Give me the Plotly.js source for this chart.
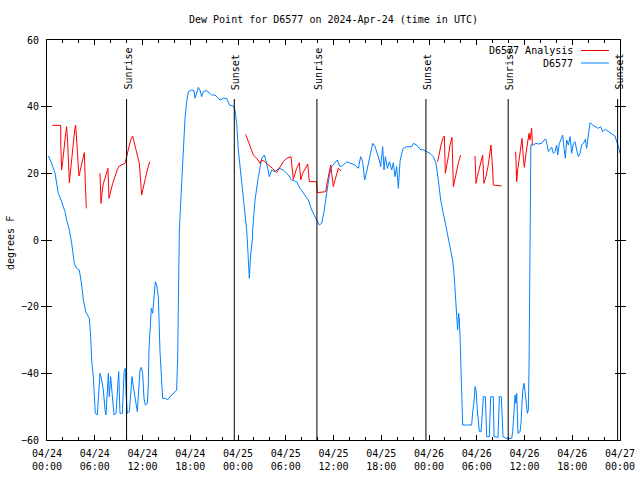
<!DOCTYPE html>
<html><head><meta charset="utf-8">
<script src="https://cdn.plot.ly/plotly-3.0.1.min.js"></script>
<style>html,body{margin:0;padding:0;background:#fff}#chart{width:640px;height:480px}</style>
</head><body><div id="chart"></div>
<script>
// Hours since 2024-04-24 00:00 UTC and dew point (deg F)
const blueHours = [
0.17,0.59,1.01,1.42,1.84,2.26,2.47,2.81,3.10,3.43,
3.73,4.06,4.36,4.57,4.86,5.32,5.49,5.61,5.82,5.95,
6.07,6.32,6.45,6.66,6.87,7.08,7.29,7.41,7.71,7.83,
8.00,8.25,8.42,8.67,8.84,9.01,9.17,9.47,9.68,9.84,
9.93,10.09,10.35,10.51,10.68,10.85,11.02,11.18,11.35,11.52,
11.69,11.85,12.02,12.19,12.36,12.61,12.73,12.82,12.94,13.11,
13.28,13.45,13.61,13.78,13.99,14.20,14.41,14.53,14.95,15.12,
15.66,16.29,16.42,16.54,16.63,16.92,17.13,17.34,17.55,17.76,
18.18,18.47,18.60,18.81,19.02,19.22,19.43,19.64,20.06,20.48,
20.69,21.11,21.53,21.74,22.16,22.58,22.91,23.41,23.62,23.83,
24.04,24.46,24.75,25.09,25.17,25.30,25.42,25.59,25.80,25.84,
26.14,26.56,26.98,27.31,27.60,27.94,28.23,28.65,29.19,29.70,
30.33,30.74,31.37,31.79,32.21,32.84,33.26,33.68,33.97,34.22,
34.51,34.81,35.14,35.48,35.77,36.07,36.48,36.82,37.24,37.65,
38.16,38.70,39.12,39.41,39.66,39.92,40.17,40.38,40.59,40.92,
41.22,41.43,41.76,41.93,42.18,42.35,42.52,42.77,43.02,43.31,
43.52,43.73,43.94,44.15,44.36,44.57,44.77,45.19,45.82,46.03,
46.45,46.87,47.29,47.71,48.13,48.54,48.88,49.17,49.47,49.80,
50.14,50.22,50.55,50.76,50.97,51.14,51.27,51.39,51.48,51.60,
51.73,51.81,51.90,51.98,52.11,52.23,52.73,53.36,53.49,53.66,
53.78,53.91,54.07,54.24,54.33,54.54,54.62,54.83,55.08,55.17,
55.25,55.58,55.75,56.08,56.17,56.67,56.75,56.84,57.09,57.21,
57.30,57.68,58.39,58.52,58.64,58.81,58.94,59.02,59.10,59.18,
59.44,59.56,59.69,59.77,59.94,60.06,60.19,60.36,60.48,60.57,
60.69,60.74,60.80,61.11,61.44,61.74,62.16,62.45,62.70,63.00,
63.21,63.42,63.63,63.84,64.04,64.17,64.38,64.55,64.80,64.97,
65.13,65.30,65.51,65.72,65.93,66.14,66.35,66.56,66.77,66.98,
67.19,67.40,67.65,67.81,68.02,68.23,68.57,68.86,69.28,69.57,
69.82,70.15,70.53,70.95,71.37,71.66,71.87,71.98
];
const blueValues = [
25.2,23,20,14,11.5,8.5,6,3,-1,-7,
-8.5,-9,-13.5,-18,-21.5,-23.5,-29,-36,-41,-45.5,
-52,-52.5,-47,-40,-42,-45,-51,-52.5,-40,-47,
-41,-49.5,-52.5,-52,-46,-39.5,-52,-52,-39.5,-38.5,
-46,-52,-51.5,-46,-41,-44,-47,-50,-51.5,-45,
-39,-38.2,-40,-47.5,-49.5,-49,-43.5,-32.5,-26,-20.5,
-22,-15.5,-12.5,-13.5,-17,-33.5,-43,-47.5,-47.5,-48,
-46.5,-45,-35,-16.5,3,17,28,36.5,41.5,44.5,
45,44.8,42.5,44.5,45.8,45,43,44.5,44.8,44,
43.5,43.5,42.5,42,42.5,42.5,40.5,40.2,39,35,
27,18,10,3,0,-6.5,-11.5,-4.5,0,3,
12,19,24.5,25.5,23,19,21,20.5,21.5,21,
19.5,18,17.5,15.5,14,12,9,7,6,4.5,
5,8.5,14,19.5,22,23,24,22,22.5,23.5,
23,22.5,21.5,25,23.5,18,20.5,23,25,29,
28,26.5,24,22,28,21,25,21.5,23.5,21,
23.2,19,22,15.5,23.5,26,27.5,28,28,29,
28.5,27.2,27,26.5,26,25,23,18,12,8,
4,3,0,-3,-6,-10,-15,-20,-25,-27,
-22,-24,-29,-37.5,-49.5,-55.5,-55.5,-55.5,-51.5,-48.5,
-44,-45,-51,-55,-57.5,-57.5,-54.5,-47,-47,-53,
-59,-59,-47,-47,-59,-59.2,-53,-47,-47,-53.5,
-59,-59.5,-59.5,-57.5,-53,-46.5,-49,-46,-51.5,-58,
-57.5,-55,-49,-45.5,-43,-45,-48,-52,-51,-38,
-12,14,28.5,28.5,29,28.8,29,30,30.2,26.5,
27,27.8,26,26.5,28.5,25.5,29,30,31.5,27.5,
24.5,30,28.5,31,26,29,29.5,27,25,26,
28.5,29,30.2,27.5,31,35.2,34.5,34,33.5,34,
32.5,33.2,32.5,32,31.2,29,27.5,26
];
const redHours = [
0.67,1.72,1.74,1.84,1.97,2.14,2.35,2.47,2.60,2.81,
2.97,3.14,3.31,3.48,3.60,3.73,3.90,4.02,4.23,4.40,
4.57,4.69,4.82,4.94,5.80,6.66,6.79,6.91,7.08,7.29,
7.50,7.66,7.79,8.00,8.25,8.54,8.84,9.09,9.38,9.80,
10.01,10.26,10.51,10.76,11.06,11.35,11.60,11.90,12.10,12.36,
12.61,12.90,18.00,24.96,25.30,25.59,25.93,26.35,26.76,26.97,
27.39,27.81,28.34,28.85,29.27,29.69,30.11,30.66,30.95,31.16,
31.37,31.71,31.88,32.13,32.42,32.76,32.96,33.88,33.97,35.02,
35.23,35.44,35.65,35.77,35.98,36.19,36.40,36.61,36.94,42.00,
49.09,49.30,49.55,49.80,49.93,50.05,50.22,50.43,50.64,50.89,
51.06,51.23,51.48,51.73,51.98,52.90,53.78,53.91,54.07,54.33,
54.58,54.74,54.91,55.16,55.41,55.66,55.79,56.00,56.08,57.13,
58.00,58.89,59.02,59.14,59.35,59.52,59.69,59.86,59.98,60.19,
60.36,60.57,60.69,60.90,60.99
];
const redValues = [
34.4,34.4,28,21,23.5,28,32,34,29,17.2,
21,26,31,33,34.5,28,23.5,19.2,21.5,23,
24.5,26.2,17,9.5,null,20,11,14,17,18.5,
20.5,21.5,12.5,15,17,19,21.2,22.2,22.6,23,
25,28,30,31.2,28.5,25.5,23,13.5,16,18.5,
21,23.5,null,31.7,29.5,27.5,25.5,24.5,23,24,
23.5,22.5,21.5,20.2,22,23.5,24.5,25,18.2,20,
21.5,23.2,18,20,21.5,22.8,17.5,17.5,14.2,14.5,
17.5,20,22.5,20,16,18,19.5,21.5,20.7,null,
23.5,26,29,30.8,31.2,20,22,25,28.5,30.8,
16,18,21,23.5,25.5,null,25.2,17,19,21.5,
24,25.5,17,19,22,26,28.5,21,16.5,16.2,
null,26.5,17.5,21,25,28.5,30.5,24.5,21.8,26,
29,32,30,33.5,28.5
];
const sunTimes = ['2024-04-24 10:00','2024-04-24 23:32','2024-04-25 09:55','2024-04-25 23:37','2024-04-26 09:57','2024-04-26 23:42'];
const sunLabels = ['Sunrise','Sunset','Sunrise','Sunset','Sunrise','Sunset'];
const seriesNames = ['D6577 Analysis','D6577'];
const seriesColors = ['#ff0000','#0080ff'];

const start = Date.UTC(2024,3,24);
function toDate(h){ const d = new Date(start + Math.round(h*3600000)); return d.toISOString().slice(0,19).replace('T',' '); }

const FONT = 'DejaVu Sans Mono, Liberation Mono, monospace';
const xRange = ['2024-04-24 00:00','2024-04-27 00:00'];
const traces = [
  {x: redHours.map(toDate), y: redValues, type:'scatter', mode:'lines', name: seriesNames[0], xaxis:'x2', connectgaps:false, line:{color:seriesColors[0], width:1}},
  {x: blueHours.map(toDate), y: blueValues, type:'scatter', mode:'lines', name: seriesNames[1], xaxis:'x', connectgaps:false, line:{color:seriesColors[1], width:1}}
];

const plotL = 47, plotR = 620, plotT = 40, plotB = 440;
const pw = plotR - plotL, ph = plotB - plotT;
const px = v => (v - plotL)/pw;
const py = v => (plotB - v)/ph;

const shapes = [], annotations = [];
sunTimes.forEach((t,i) => {
  shapes.push({type:'line', xref:'x', yref:'paper', x0:t, x1:t, y0:0, y1:py(99), line:{color:'#000', width:1}});
  annotations.push({x:t, xref:'x', y:py(92), yref:'paper', yanchor:'bottom', xanchor:'center', xshift:1, text:sunLabels[i], textangle:-90, showarrow:false, font:{family:FONT, size:10, color:'#000'}});
});
const legY = [py(50.5), py(63)];
seriesNames.forEach((n,i) => {
  annotations.push({x:px(575), xref:'paper', y:legY[i], yref:'paper', xanchor:'right', yanchor:'middle', text:n, showarrow:false, font:{family:FONT, size:10, color:'#000'}});
  shapes.push({type:'line', xref:'paper', yref:'paper', x0:px(581), x1:px(609), y0:legY[i], y1:legY[i], line:{color:seriesColors[i], width:1}});
});
annotations.push({x:px(10), xref:'paper', y:py(243), yref:'paper', xanchor:'center', yanchor:'middle', text:'degrees F', textangle:-90, showarrow:false, font:{family:FONT, size:10, color:'#000'}});

const tickFont = {family:FONT, size:10, color:'#000'};
const layout = {
  width:640, height:480,
  margin:{l:plotL, r:640-plotR, t:plotT, b:480-plotB, pad:0},
  paper_bgcolor:'#fff', plot_bgcolor:'#fff',
  font:{family:FONT, size:10, color:'#000'},
  showlegend:false,
  title:{text:'Dew Point for D6577 on 2024-Apr-24 (time in UTC)', font:{family:FONT, size:10, color:'#000'}, x:0.5, xref:'paper', xanchor:'center', y:1-19/480, yref:'container', yanchor:'middle'},
  xaxis:{type:'date', range:xRange, tick0:'2024-04-24 00:00', dtick:21600000, tickformat:'%m/%d',
    ticks:'inside', ticklen:5, tickcolor:'#000', tickwidth:1, showline:true, linecolor:'#000', linewidth:1, mirror:'allticks',
    showgrid:false, zeroline:false, tickfont:tickFont, ticklabelstandoff:4,
    minor:{dtick:7200000, ticks:'inside', ticklen:3, tickcolor:'#000', tickwidth:1, showgrid:false}},
  xaxis2:{type:'date', range:xRange, overlaying:'x', side:'bottom', anchor:'y', tick0:'2024-04-24 00:00', dtick:21600000, tickformat:'%H:%M',
    ticks:'', showline:false, showgrid:false, zeroline:false, tickfont:tickFont, ticklabelstandoff:19},
  yaxis:{range:[-60,60], dtick:20, tick0:0, ticks:'inside', ticklen:5, tickcolor:'#000', tickwidth:1, showline:true, linecolor:'#000', linewidth:1, mirror:'allticks',
    showgrid:false, zeroline:false, ticklabelstandoff:5, tickfont:tickFont},
  shapes:shapes, annotations:annotations
};
Plotly.newPlot('chart', traces, layout, {staticPlot:true, displayModeBar:false});
</script></body></html>
